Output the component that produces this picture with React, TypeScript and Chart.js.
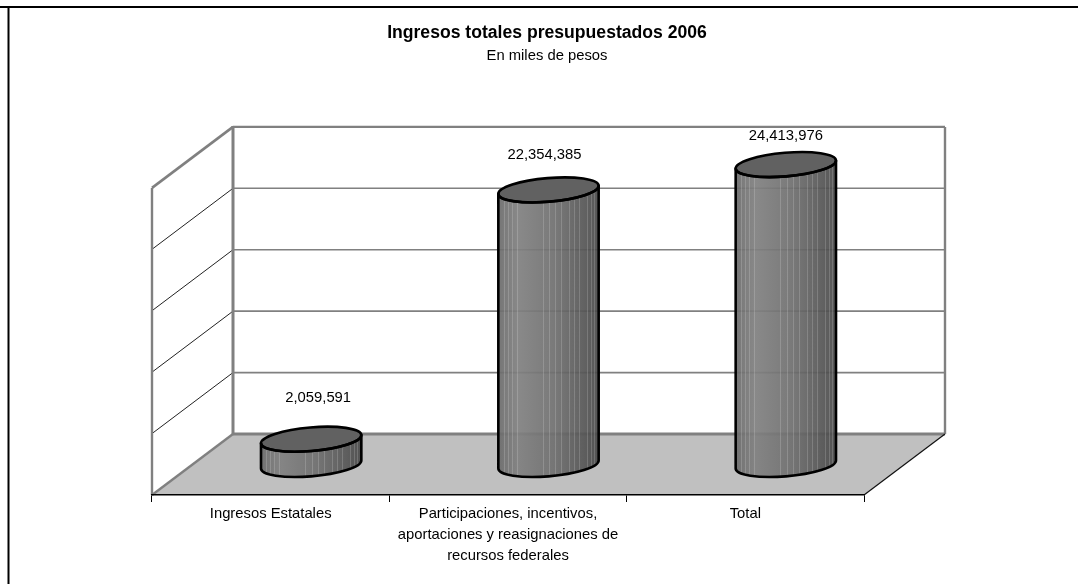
import React, { useEffect, useRef } from "react";
import { Chart, registerables } from "chart.js";

Chart.register(...registerables);

const categories = [
  "Ingresos Estatales",
  ["Participaciones, incentivos,", "aportaciones y reasignaciones de", "recursos federales"],
  "Total",
];
const values = [2059591, 22354385, 24413976];
const titleText = "Ingresos totales presupuestados 2006";
const subtitleText = "En miles de pesos";
const axisMax = 25000000;
const axisStep = 5000000;

// styling constants
const FONT = "'Liberation Sans', Arial, sans-serif";
const GRAY = "#808080";
const depthX = 81;
const depthY = 61;
const labelLift = [72, 65, 59];
const labelShift = [7, -4, 0];
const streaks = [0.05, 0.09, 0.13, 0.18, 0.44, 0.51, 0.57, 0.63, 0.71, 0.76, 0.81, 0.89, 0.93, 0.96];
const tilt = -0.085;
const ellipseB = 11.8;

function line(ctx: CanvasRenderingContext2D, x1: number, y1: number, x2: number, y2: number, w: number, c: string) {
  ctx.beginPath();
  ctx.moveTo(x1, y1);
  ctx.lineTo(x2, y2);
  ctx.lineWidth = w;
  ctx.strokeStyle = c;
  ctx.stroke();
}

const scenePlugin = {
  id: "scene",
  beforeDraw(chart: any) {
    const { ctx, chartArea: a, scales } = chart;
    const y = scales.y;
    ctx.save();
    ctx.fillStyle = "#fff";
    ctx.fillRect(0, 0, chart.width, chart.height);
    // frame (top and left only)
    line(ctx, 0, 7, chart.width, 7, 2, "#000");
    line(ctx, 8.5, 7, 8.5, chart.height, 2, "#000");
    // floor
    ctx.beginPath();
    ctx.moveTo(a.left, a.bottom);
    ctx.lineTo(a.left + depthX, a.bottom - depthY);
    ctx.lineTo(a.right + depthX, a.bottom - depthY);
    ctx.lineTo(a.right, a.bottom);
    ctx.closePath();
    ctx.fillStyle = "#c0c0c0";
    ctx.fill();
    // grid lines from the scale's ticks
    for (const t of y.ticks) {
      if (t.value === 0 || t.value === axisMax) continue;
      const p = y.getPixelForValue(t.value);
      line(ctx, a.left, p, a.left + depthX, p - depthY, 1, "#222");
      line(ctx, a.left + depthX, p - depthY, a.right + depthX, p - depthY, 1.6, GRAY);
    }
    // wall frames
    const back = a.left + depthX;
    const top = a.top - depthY;
    const floorBack = a.bottom - depthY;
    line(ctx, back, top, a.right + depthX, top, 2.4, GRAY);
    line(ctx, a.right + depthX, top, a.right + depthX, floorBack, 2.4, GRAY);
    line(ctx, back, floorBack, a.right + depthX, floorBack, 3, GRAY);
    line(ctx, back, top - 1, back, floorBack, 3, GRAY);
    line(ctx, a.left, a.top, a.left, a.bottom, 2.4, GRAY);
    line(ctx, a.left, a.top, back, top, 2.6, GRAY);
    line(ctx, a.left, a.bottom, back, floorBack, 2.4, GRAY);
    line(ctx, a.right, a.bottom, a.right + depthX, floorBack, 1.2, "#111");
    ctx.restore();
  },
  afterDatasetsDraw(chart: any) {
    const { ctx } = chart;
    const meta = chart.getDatasetMeta(0);
    ctx.save();
    meta.data.forEach((bar: any, i: number) => {
      const cx = bar.x + depthX / 2;
      const topY = bar.y - depthY / 2;
      const baseY = bar.base - depthY / 2;
      const halfW = bar.width / 2;
      const a = halfW + 0.5;
      const t0 = Math.atan(-(ellipseB / a) * Math.tan(tilt));
      const body = () => {
        ctx.beginPath();
        ctx.ellipse(cx, topY, a, ellipseB, tilt, t0, t0 + Math.PI, false);
        ctx.ellipse(cx, baseY, a, ellipseB, tilt, t0 + Math.PI, t0, true);
        ctx.closePath();
      };
      const g = ctx.createLinearGradient(cx - halfW, 0, cx + halfW, 0);
      g.addColorStop(0, "#6c6c6c");
      g.addColorStop(0.2, "#808080");
      g.addColorStop(0.55, "#707070");
      g.addColorStop(1, "#4b4b4b");
      ctx.save();
      body();
      ctx.globalAlpha = 0.93;
      ctx.fillStyle = g;
      ctx.fill();
      ctx.globalAlpha = 1;
      ctx.clip();
      for (const s of streaks) {
        const sx = Math.round(cx - halfW + s * 2 * halfW) + 0.5;
        line(ctx, sx, topY - 20, sx, baseY + 20, 1, "rgba(255,255,255,0.17)");
      }
      ctx.restore();
      // top cap
      ctx.beginPath();
      ctx.ellipse(cx, topY, a, ellipseB, tilt, 0, Math.PI * 2);
      ctx.fillStyle = "#616161";
      ctx.fill();
      ctx.lineWidth = 2.6;
      ctx.strokeStyle = "#000";
      ctx.stroke();
      body();
      ctx.lineJoin = "round";
      ctx.stroke();
      // value label
      ctx.fillStyle = "#000";
      ctx.font = `14.8px ${FONT}`;
      ctx.textAlign = "center";
      ctx.textBaseline = "middle";
      ctx.fillText(values[i].toLocaleString("en-US"), cx + labelShift[i], bar.y - labelLift[i]);
    });
    ctx.restore();
  },
};

export default function App() {
  const ref = useRef<HTMLCanvasElement>(null);
  useEffect(() => {
    const chart = new Chart(ref.current!, {
      type: "bar",
      plugins: [scenePlugin],
      data: {
        labels: categories as any,
        datasets: [
          {
            data: values,
            backgroundColor: "rgba(0,0,0,0)",
            borderWidth: 0,
            categoryPercentage: 1,
            barPercentage: 0.42,
          },
        ],
      },
      options: {
        responsive: false,
        animation: false,
        layout: { padding: { left: 16, right: 0, top: 0, bottom: 0 } },
        plugins: {
          legend: { display: false },
          tooltip: { enabled: false },
          title: {
            display: true,
            text: titleText,
            color: "#000",
            font: { family: FONT, size: 17.6, weight: "bold", lineHeight: 1.2 },
            padding: { top: 22.5, bottom: 3.5 },
          },
          subtitle: {
            display: true,
            text: subtitleText,
            color: "#000",
            font: { family: FONT, size: 14.8, weight: "normal", lineHeight: 1.2 },
            padding: { top: 0, bottom: 123 },
          },
        },
        scales: {
          x: {
            border: { display: true, color: "#000", width: 1.5 },
            grid: { display: true, offset: true, drawOnChartArea: false, tickLength: 7, tickColor: "#000", tickWidth: 1 },
            ticks: {
              color: "#000",
              font: { family: FONT, size: 14.8, lineHeight: 1.42 },
              maxRotation: 0,
              autoSkip: false,
              padding: 1,
            },
            afterFit(s: any) {
              s.height = 89;
            },
          },
          y: {
            min: 0,
            max: axisMax,
            ticks: { stepSize: axisStep, display: false },
            grid: { display: false },
            border: { display: false },
            afterFit(s: any) {
              s.width = 136;
            },
          },
          y2: {
            axis: "y",
            position: "right",
            ticks: { display: false },
            grid: { display: false },
            border: { display: false },
            afterFit(s: any) {
              s.width = 214;
            },
          },
        } as any,
      },
    });
    return () => chart.destroy();
  }, []);
  return (
    <canvas
      ref={ref}
      width={1078}
      height={584}
      style={{ position: "fixed", left: 0, top: 0, display: "block" }}
    />
  );
}
